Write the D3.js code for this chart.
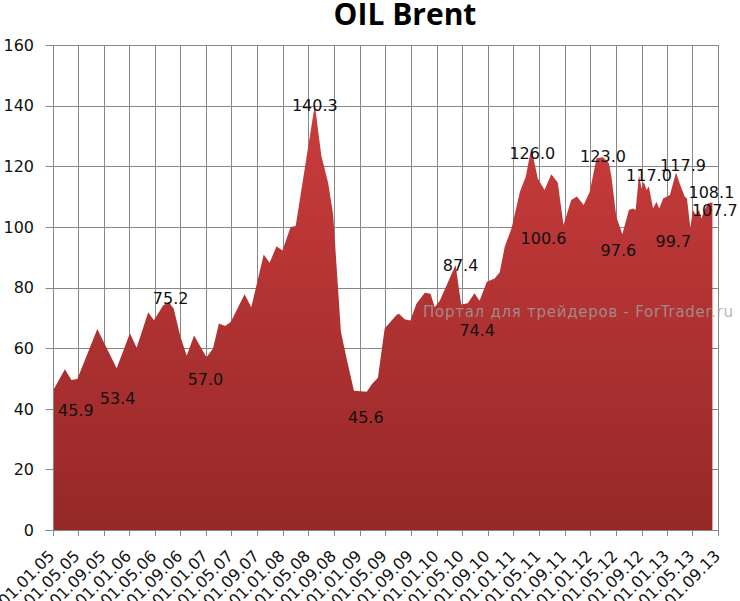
<!DOCTYPE html>
<html>
<head>
<meta charset="utf-8">
<script src="https://cdn.jsdelivr.net/npm/d3@7"></script>
<style>
  html, body { margin: 0; padding: 0; background: #ffffff; }
  svg { display: block; }
</style>
</head>
<body>
<svg id="chart" width="740" height="601"></svg>
<script>
// ---------------- data ----------------
const chartTitle = "OIL Brent";
const watermark = "Портал для трейдеров - ForTrader.ru";

const dates = [
  "2005-01-03","2005-03-01","2005-04-01","2005-04-29","2005-08-02","2005-11-02",
  "2006-01-04","2006-02-05","2006-04-01","2006-04-28","2006-06-11","2006-07-07","2006-07-31",
  "2006-09-01","2006-10-01","2006-11-05","2007-01-03","2007-02-03","2007-03-03","2007-04-02",
  "2007-04-29","2007-07-03","2007-08-04","2007-10-02","2007-10-30","2007-12-02","2007-12-30",
  "2008-02-07","2008-03-02","2008-06-01","2008-07-02","2008-08-03","2008-08-27","2008-10-03",
  "2008-10-30","2008-12-04","2009-02-03","2009-02-27","2009-03-28","2009-04-29","2009-06-24",
  "2009-07-06","2009-08-02","2009-08-29","2009-09-27","2009-11-06","2009-12-03","2009-12-23",
  "2010-01-16","2010-04-01","2010-04-28","2010-05-29","2010-06-30","2010-07-24","2010-08-28",
  "2010-10-04","2010-10-28","2010-11-21","2010-12-23","2011-02-01","2011-03-01","2011-03-27",
  "2011-04-27","2011-05-29","2011-06-30","2011-07-31","2011-08-27","2011-10-03","2011-10-30",
  "2011-12-01","2011-12-30","2012-01-31","2012-03-02","2012-03-30","2012-04-11","2012-05-04",
  "2012-06-02","2012-07-03","2012-07-22","2012-08-04","2012-08-20","2012-09-01","2012-09-12",
  "2012-09-25","2012-10-06","2012-10-26","2012-11-11","2012-11-24","2012-12-13","2013-01-14",
  "2013-02-12","2013-03-01","2013-03-25","2013-04-05","2013-04-21","2013-05-03","2013-05-19",
  "2013-06-01","2013-06-12","2013-06-28","2013-07-13","2013-08-04"
];
const prices = [
  45.9, 53.0, 49.5, 49.8, 66.3, 53.4,
  64.9, 60.1, 71.8, 69.2, 74.1, 75.2, 73.1,
  63.8, 57.5, 64.2, 57.0, 59.9, 68.1, 67.3,
  68.7, 77.8, 73.5, 90.9, 88.2, 93.6, 92.2,
  100.0, 100.3, 140.3, 123.5, 114.6, 104.2, 65.4,
  56.6, 45.9, 45.6, 48.1, 50.2, 66.5, 70.9,
  71.3, 69.5, 69.1, 74.6, 78.3, 77.9, 73.5,
  75.6, 87.4, 74.4, 74.8, 78.1, 75.6, 81.9,
  83.0, 85.0, 93.5, 99.5, 111.6, 116.6, 126.0,
  116.0, 112.2, 117.4, 114.6, 100.6, 108.9, 110.0,
  107.2, 111.6, 122.6, 123.0, 121.0, 116.6, 103.4,
  97.6, 105.6, 106.1, 105.6, 117.0, 112.7, 114.9,
  112.2, 113.3, 106.1, 108.3, 106.1, 109.4, 110.5,
  117.9, 114.4, 110.0, 109.4, 99.7, 105.6, 103.9,
  105.6, 102.8, 105.6, 107.7, 108.1
];

// labelled points (by date) and their texts
const labelDates = ["2005-01-03","2005-11-02","2006-07-07","2007-01-03","2008-06-01","2009-02-03",
  "2010-04-01","2010-04-28","2011-03-27","2011-08-27","2012-03-02","2012-06-02","2012-08-20",
  "2013-02-12","2013-04-21","2013-08-04","2013-07-13"];
const labelTexts = ["45.9","53.4","75.2","57.0","140.3","45.6","87.4","74.4","126.0","100.6",
  "123.0","97.6","117.0","117.9","99.7","108.1","107.7"];
// label placement offsets (px) relative to the point
const labelOffsets = [[23,19],[1,30],[2,-4],[-1,22],[0,1],[-1,25],[5,0],[16,26],[1,5],[-20,13],
  [0,-1],[-4,16],[10,0],[7,-7],[-17,13],[-1,-10],[7,7]];

const yTicks = [0, 20, 40, 60, 80, 100, 120, 140, 160];
const xTickLabels = ["01.01.05","01.05.05","01.09.05","01.01.06","01.05.06","01.09.06","01.01.07",
  "01.05.07","01.09.07","01.01.08","01.05.08","01.09.08","01.01.09","01.05.09","01.09.09",
  "01.01.10","01.05.10","01.09.10","01.01.11","01.05.11","01.09.11","01.01.12","01.05.12",
  "01.09.12","01.01.13","01.05.13","01.09.13"];

// ---------------- layout ----------------
const svg = d3.select("#chart");
const parse = d3.timeParse("%Y-%m-%d");
const parseTick = d3.timeParse("%d.%m.%y");
const data = dates.map((d, i) => ({ date: parse(d), value: prices[i] }));
const tickDates = xTickLabels.map(parseTick);

const L = 52.5, R = 718.3, T = 45, B = 530;
const x = d3.scaleTime().domain([tickDates[0], tickDates[tickDates.length - 1]]).range([L, R]);
const y = d3.scaleLinear().domain([0, 160]).range([B, T]);

const gridColor = "#878787";

// gradient
const defs = svg.append("defs");
const grad = defs.append("linearGradient").attr("id", "redGrad")
  .attr("gradientUnits", "userSpaceOnUse").attr("x1", 0).attr("x2", 0).attr("y1", T).attr("y2", B);
grad.append("stop").attr("offset", "0%").attr("stop-color", "#d23f3f");
grad.append("stop").attr("offset", "100%").attr("stop-color", "#962828");

// grid
const grid = svg.append("g");
grid.selectAll("line.h").data(yTicks).join("line")
  .attr("x1", L - 7).attr("x2", R)
  .attr("y1", d => Math.round(y(d)) + 0.5).attr("y2", d => Math.round(y(d)) + 0.5)
  .attr("stroke", gridColor).attr("stroke-width", 1);
grid.selectAll("line.v").data(tickDates).join("line")
  .attr("x1", d => Math.round(x(d)) + 0.5).attr("x2", d => Math.round(x(d)) + 0.5)
  .attr("y1", T).attr("y2", B + 6)
  .attr("stroke", gridColor).attr("stroke-width", 1);

// area
const area = d3.area()
  .x(d => x(d.date))
  .y0(y(0))
  .y1(d => y(d.value));
svg.append("path").datum(data)
  .attr("d", area)
  .attr("fill", "url(#redGrad)");

// axes lines
svg.append("line").attr("x1", Math.round(L) + 0.5).attr("x2", Math.round(L) + 0.5)
  .attr("y1", T).attr("y2", B + 6).attr("stroke", gridColor);
svg.append("line").attr("x1", L - 7).attr("x2", R)
  .attr("y1", Math.round(B) + 0.5).attr("y2", Math.round(B) + 0.5).attr("stroke", gridColor);

// y labels
svg.append("g").selectAll("text").data(yTicks).join("text")
  .attr("x", 34).attr("y", d => y(d))
  .attr("dy", "0.36em")
  .attr("text-anchor", "end")
  .attr("font-family", "DejaVu Sans, Verdana, sans-serif")
  .attr("font-size", 16).attr("fill", "#111")
  .text(d => d);

// x labels
svg.append("g").selectAll("text").data(tickDates).join("text")
  .attr("transform", d => `translate(${x(d) - 1},${B + 23}) rotate(-45)`)
  .attr("text-anchor", "end")
  .attr("dy", "0.35em")
  .attr("font-family", "DejaVu Sans, Verdana, sans-serif")
  .attr("font-size", 16).attr("fill", "#111")
  .text((d, i) => xTickLabels[i]);

// watermark
svg.append("text")
  .attr("x", 423).attr("y", 312).attr("dy", "0.35em")
  .attr("font-family", "DejaVu Sans, Verdana, sans-serif")
  .attr("font-size", 15)
  .attr("textLength", 310).attr("lengthAdjust", "spacing")
  .attr("fill", "#a0a0a0").attr("fill-opacity", 0.8)
  .text(watermark);

// data labels
const byDate = new Map(data.map(d => [+d.date, d]));
svg.append("g").selectAll("text").data(labelDates).join("text")
  .attr("x", (d, i) => x(parse(d)) + labelOffsets[i][0])
  .attr("y", (d, i) => y(byDate.get(+parse(d)).value) + labelOffsets[i][1])
  .attr("dy", "0.36em")
  .attr("text-anchor", "middle")
  .attr("font-family", "DejaVu Sans, Verdana, sans-serif")
  .attr("font-size", 16).attr("fill", "#111")
  .text((d, i) => labelTexts[i]);

// title
svg.append("text")
  .attr("x", 405).attr("y", 25)
  .attr("text-anchor", "middle")
  .attr("font-family", "Open Sans, sans-serif")
  .attr("font-weight", "bold")
  .attr("font-size", 30).attr("fill", "#000")
  .text(chartTitle);
</script>
</body>
</html>
